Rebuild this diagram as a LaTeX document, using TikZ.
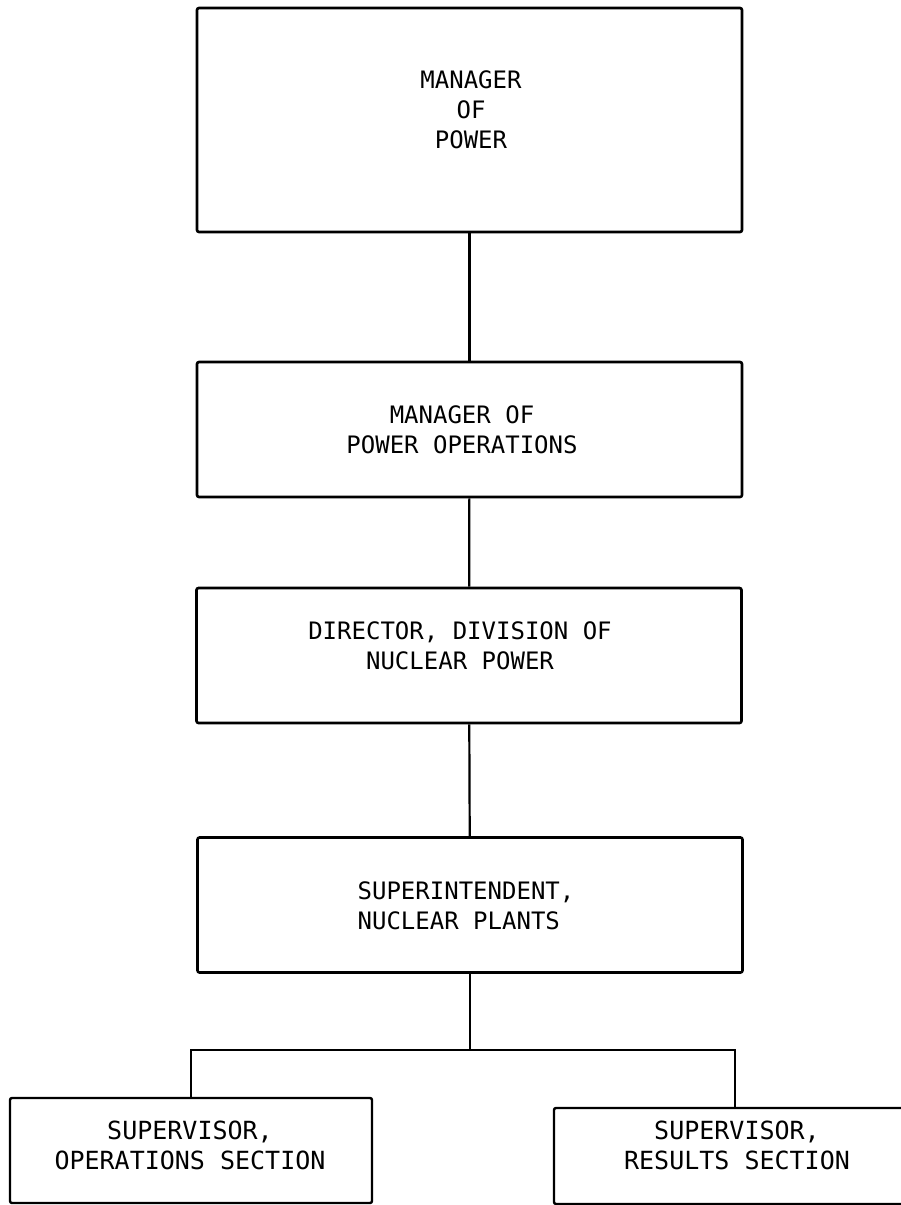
\documentclass[tikz,border=0pt]{standalone}
\usepackage{fontspec}
\newfontfamily\chartfont{DejaVu Sans Mono}
\tikzset{
  orgbox/.style={draw, line width=2.6pt, rounded corners=2pt,
    minimum width=545pt, minimum height=135pt, inner sep=0pt},
  subbox/.style={draw, line width=2.4pt, rounded corners=2pt,
    minimum width=362pt, minimum height=105pt, inner sep=0pt},
  orgtext/.style={align=center, inner sep=0pt,
    font=\chartfont\fontsize{24}{30}\selectfont},
  subtext/.style={orgtext, font=\chartfont\fontsize{25}{30}\selectfont},
  link/.style={line width=2.2pt},
}
\begin{document}
\begin{tikzpicture}[x=1pt, y=-1pt]
\clip (0,0) rectangle (901,1205);

%%==========================================================================
%% Chain of command
%%==========================================================================
\node[orgbox, minimum height=224pt] (mgr) at (469.5,120) {};
\node[orgtext] (mgrt) at (471,110) {MANAGER\\OF\\POWER};

\node[orgbox] (ops) at (469.5,429.5) {};
\node[orgtext] (opst) at (462,430) {MANAGER OF\\POWER OPERATIONS};

\node[orgbox] (dnp) at (469,655.5) {};
\node[orgtext] (dnpt) at (460,646) {DIRECTOR, DIVISION OF\\NUCLEAR POWER};

\node[orgbox] (sup) at (470,905) {};
\node[orgtext, align=left] (supt) at (466,906) {SUPERINTENDENT,\\NUCLEAR PLANTS};

%% Sections (cut off by the page edge)
\node[subbox] (opsec) at (191,1150.5) {};
\node[subtext] (opsect) at (190,1145) {SUPERVISOR,\\OPERATIONS SECTION};

\node[subbox, minimum height=96pt] (ressec) at (735,1156) {};
\node[subtext] (ressect) at (737,1145) {SUPERVISOR,\\RESULTS SECTION};

%%==========================================================================
%% Connectors
%%==========================================================================
\draw[link] (mgr) -- (ops);
\draw[link] (ops) -- (dnp);
\draw[link] (dnp) -- (sup);
\coordinate (fork) at (470,1050);
\draw[link] (sup) -- (fork);
\draw[link] (opsec.north) |- (fork) -| (ressec.north);

\end{tikzpicture}
\end{document}
